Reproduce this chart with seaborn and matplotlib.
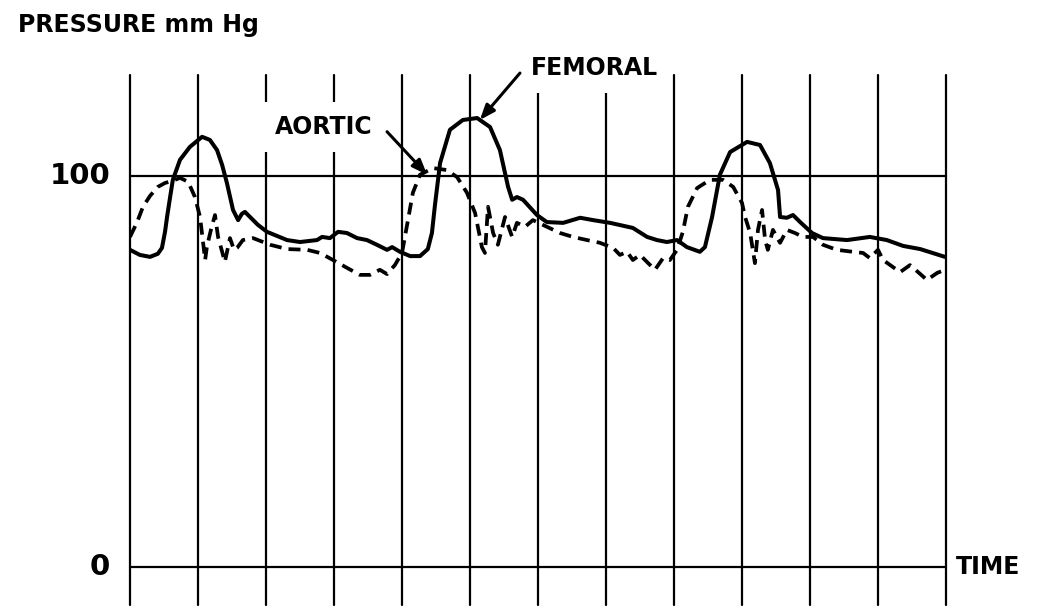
import matplotlib
matplotlib.use("Agg")
import matplotlib.pyplot as plt
import numpy as np
import pandas as pd
import seaborn as sns

# Femoral artery pressure trace (time in s, pressure in mm Hg)
femoral_t = [0.000, 0.029, 0.059, 0.082, 0.094, 0.103, 0.109, 0.118, 0.126, 0.147,
             0.176, 0.212, 0.235, 0.256, 0.271, 0.285, 0.303, 0.318, 0.329, 0.338,
             0.353, 0.376, 0.403, 0.462, 0.500, 0.550, 0.565, 0.588, 0.612, 0.638,
             0.668, 0.697, 0.726, 0.756, 0.771, 0.794, 0.824, 0.853, 0.876, 0.888,
             0.897, 0.912, 0.941, 0.979, 1.021, 1.059, 1.088, 1.112, 1.124, 1.138,
             1.156, 1.197, 1.226, 1.274, 1.324, 1.362, 1.412, 1.479, 1.521, 1.550,
             1.579, 1.609, 1.638, 1.676, 1.691, 1.712, 1.735, 1.765, 1.815, 1.853,
             1.882, 1.906, 1.912, 1.932, 1.950, 1.971, 2.006, 2.038, 2.109, 2.176,
             2.226, 2.274, 2.324, 2.397]
femoral_p = [81.1, 79.8, 79.3, 80.1, 81.6, 85.7, 89.5, 94.6, 99.0, 104.1,
             107.4, 110.0, 109.2, 106.6, 102.8, 98.2, 91.3, 88.7, 90.3, 90.8,
             89.5, 87.5, 85.7, 83.6, 83.1, 83.6, 84.4, 84.1, 85.7, 85.4,
             84.1, 83.6, 82.4, 81.1, 81.8, 80.6, 79.5, 79.5, 81.3, 85.4,
             92.6, 103.3, 111.8, 114.3, 114.8, 112.5, 106.6, 97.2, 93.9, 94.6,
             93.9, 90.0, 88.2, 88.0, 89.3, 88.7, 88.0, 86.7, 84.4, 83.6,
             83.1, 83.6, 81.8, 80.6, 81.8, 89.5, 100.3, 106.1, 108.7, 107.9,
             103.3, 96.4, 89.5, 89.3, 90.0, 88.2, 85.4, 84.1, 83.6, 84.4,
             83.6, 82.1, 81.3, 79.3]

# Aortic pressure trace (time in s, pressure in mm Hg)
aortic_t = [0.000, 0.021, 0.038, 0.059, 0.082, 0.103, 0.124, 0.147, 0.171, 0.191,
            0.206, 0.215, 0.221, 0.226, 0.238, 0.250, 0.259, 0.271, 0.279, 0.294,
            0.306, 0.315, 0.332, 0.362, 0.412, 0.462, 0.521, 0.559, 0.597, 0.638,
            0.676, 0.706, 0.735, 0.756, 0.779, 0.800, 0.815, 0.832, 0.853, 0.891,
            0.932, 0.962, 0.991, 1.015, 1.035, 1.044, 1.053, 1.068, 1.082, 1.103,
            1.124, 1.138, 1.162, 1.185, 1.226, 1.265, 1.303, 1.344, 1.382, 1.421,
            1.441, 1.462, 1.479, 1.500, 1.524, 1.544, 1.568, 1.588, 1.609, 1.626,
            1.641, 1.668, 1.706, 1.744, 1.774, 1.800, 1.809, 1.824, 1.838, 1.847,
            1.859, 1.868, 1.876, 1.891, 1.912, 1.932, 1.956, 1.979, 2.009, 2.038,
            2.079, 2.126, 2.156, 2.176, 2.200, 2.215, 2.244, 2.265, 2.294, 2.318,
            2.344, 2.374, 2.397]
aortic_p = [84.4, 88.2, 92.1, 94.9, 97.2, 98.2, 98.7, 99.5, 98.5, 94.6,
            89.5, 82.9, 78.5, 81.8, 86.2, 90.0, 84.4, 80.6, 78.0, 84.1,
            81.1, 81.6, 83.6, 84.1, 82.4, 81.3, 81.1, 80.3, 78.5, 76.5,
            74.7, 74.7, 76.0, 74.9, 77.2, 80.3, 87.5, 95.7, 100.3, 102.0,
            101.5, 99.7, 95.7, 90.5, 81.8, 80.3, 92.1, 85.4, 82.4, 89.5,
            84.4, 88.0, 87.0, 88.7, 87.0, 85.4, 84.4, 83.6, 82.9, 81.6,
            79.8, 80.6, 78.5, 79.8, 77.7, 76.0, 79.0, 78.5, 81.1, 85.7,
            92.1, 96.9, 99.0, 99.0, 97.2, 93.1, 89.5, 85.4, 77.7, 86.2,
            91.3, 83.6, 81.1, 86.2, 82.9, 86.2, 85.4, 84.4, 84.4, 82.4,
            81.1, 80.6, 80.3, 79.0, 81.1, 78.5, 76.7, 75.4, 77.2, 75.4,
            73.4, 75.2, 76.0]

# Chart grid: time divisions and pressure reference levels
time_grid = [0.0, 0.2, 0.4, 0.6, 0.8, 1.0, 1.2, 1.4, 1.6, 1.8, 2.0, 2.2, 2.4]
pressure_levels = [0, 100]
pressure_labels = ["0", "100"]

sns.set_style("white")
plt.rcParams["font.family"] = ["DejaVu Sans"]

fig = plt.figure(figsize=(10.39, 6.08), dpi=100)
ax = fig.add_axes([130 / 1039, 3 / 608, 816 / 1039, 530 / 608])
ax.set_xlim(0, 2.4)
ax.set_ylim(-9.7, 125.8)
ax.axis("off")

ink = "black"
for t in time_grid:
    ax.axvline(t, color=ink, lw=1.6, clip_on=False, zorder=1)
for p in pressure_levels:
    ax.axhline(p, color=ink, lw=1.6, clip_on=False, zorder=1)

fem = pd.DataFrame({"t": femoral_t, "p": femoral_p})
aor = pd.DataFrame({"t": aortic_t, "p": aortic_p})
sns.lineplot(data=fem, x="t", y="p", ax=ax, color=ink, lw=2.9,
             sort=False, estimator=None, zorder=3)
sns.lineplot(data=aor, x="t", y="p", ax=ax, color=ink, lw=2.7,
             sort=False, estimator=None, zorder=3,
             linestyle=(0, (3.2, 1.9)))
ax.set_xlabel("")
ax.set_ylabel("")

label_font = dict(fontsize=17, fontweight="bold", color=ink)

# pressure level labels to the left of the chart
for p, lab in zip(pressure_levels, pressure_labels):
    ax.text(-0.058, p, lab, ha="right", va="center", fontsize=21,
            fontweight="bold", color=ink, clip_on=False)

ax.text(2.43, 0, "TIME", ha="left", va="center", clip_on=False, **label_font)
fig.text(18 / 1039, 1 - 25 / 608, "PRESSURE mm Hg", ha="left", va="center",
         **label_font)

# trace labels with arrows
white_box = dict(boxstyle="square,pad=0.55", fc="white", ec="none")
ax.text(0.571, 112.5, "AORTIC", ha="center", va="center", zorder=4,
        bbox=white_box, clip_on=False, **label_font)
ax.text(1.365, 127.6, "FEMORAL", ha="center", va="center", zorder=4,
        bbox=white_box, clip_on=False, **label_font)

arrow = dict(arrowstyle="-|>,head_length=0.9,head_width=0.35", color=ink,
             lw=2.2, shrinkA=0, shrinkB=0)
ax.annotate("", xy=(0.874, 100.3), xytext=(0.756, 111.3),
            arrowprops=arrow, annotation_clip=False, zorder=5)
ax.annotate("", xy=(1.029, 114.3), xytext=(1.147, 126.3),
            arrowprops=arrow, annotation_clip=False, zorder=5)

fig.savefig("out.png", dpi=100, facecolor="white")
